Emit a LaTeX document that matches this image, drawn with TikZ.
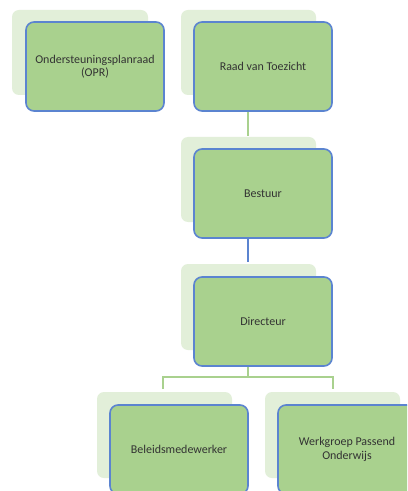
\documentclass[tikz,border=0pt]{standalone}
\usepackage{fontspec}
\setmainfont{Carlito}
\definecolor{boxfill}{HTML}{A9D18E}
\definecolor{boxline}{HTML}{5B84D0}
\definecolor{shadefill}{HTML}{E2EFD9}
\definecolor{linkgreen}{HTML}{A9D18E}
\begin{document}
\begin{tikzpicture}[x=1bp,y=-1bp,
  shade box/.style={fill=shadefill,draw=none,rounded corners=7bp},
  org box/.style={draw=boxline,line width=1.6bp,fill=boxfill,rounded corners=8bp,
    minimum width=138bp,minimum height=89bp,inner sep=0pt,align=center,
    font=\fontsize{12}{13.5}\selectfont,text=black!80},
  link/.style={draw=linkgreen,line width=1.6bp},
  blue link/.style={draw=boxline,line width=1.6bp}]
\useasboundingbox (0,0) rectangle (407,491);
\clip (0,0) rectangle (407,491);
\fill[white] (0,0) rectangle (407,491);
% shadows
\path[shade box] (12,10) rectangle (148,95);
\path[shade box] (181,10) rectangle (316,95);
\path[shade box] (181,137) rectangle (316,222);
\path[shade box] (181,264) rectangle (316,350);
\path[shade box] (97,392) rectangle (232,478);
\path[shade box] (265,392) rectangle (400,478);
% boxes
\node[org box] (opr) at (95,66.5) {Ondersteuningsplanraad\\(OPR)};
\node[org box] (rvt) at (263,66.5) {Raad van Toezicht};
\node[org box] (bes) at (263,193.5) {Bestuur};
\node[org box] (dir) at (263,321.5) {Directeur};
\node[org box] (bel) at (179,449.5) {Beleidsmedewerker};
\node[org box] (wpo) at (347,449.5) {Werkgroep Passend\\Onderwijs};
% connectors
\coordinate (rvtend) at (248,136);
\draw[link] (rvt.south -| rvtend) -- (rvtend);
\coordinate (besend) at (248,262);
\draw[blue link] (bes.south -| besend) -- (besend);
\coordinate (jn) at (248,377);
\coordinate (bl) at (163,389);
\coordinate (br) at (333,389);
\draw[link] (dir.south -| jn) -- (jn);
\draw[link] (bl) -- (bl |- jn) -- (br |- jn) -- (br);
\end{tikzpicture}
\end{document}
